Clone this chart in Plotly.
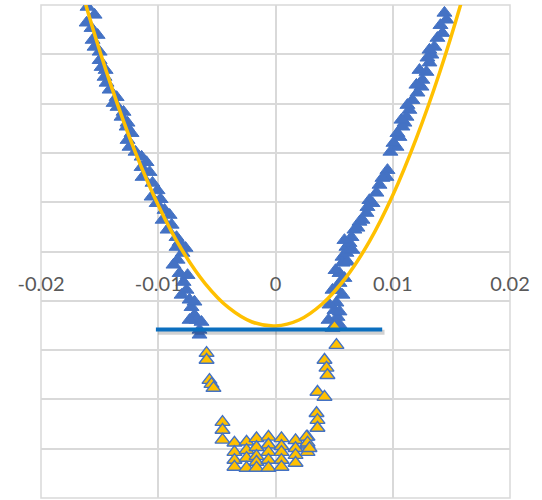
import plotly.graph_objects as go

# ---- data ----
blue_x = [-0.01603, -0.01611, -0.01569, -0.01560, -0.01543, -0.01500, -0.01483, -0.01458,
          -0.01441, -0.01355, -0.01347, -0.01313, -0.01262, -0.01270, -0.01262, -0.01245,
          -0.01142, -0.01142, -0.01134, -0.01049, -0.01057, -0.01014, -0.00946, -0.00963,
          -0.00921, -0.00844, -0.00844, -0.00793, -0.00835, -0.00818, -0.00784, -0.00759,
          -0.00733, -0.00716, -0.00691, -0.00673, -0.00648, -0.00648,
          -0.01543, -0.01517, -0.01500, -0.01449, -0.01415, -0.01381, -0.01296, -0.01228,
          -0.01194, -0.01100, -0.01074, -0.01006, -0.00980, -0.00903, -0.00886, -0.00818,
          -0.00767, -0.00870, -0.00750, -0.00801, -0.00691, -0.00733, -0.00631,
          0.01441, 0.01458, 0.01381, 0.01355, 0.01330, 0.01313, 0.01287, 0.01253,
          0.01245, 0.01211, 0.01168, 0.01142, 0.01117, 0.01100, 0.01083, 0.01057,
          0.01032, 0.00955, 0.00946, 0.00861, 0.00827, 0.00776, 0.00742, 0.00673,
          0.00648, 0.00605, 0.00571, 0.00631, 0.00605, 0.00571, 0.00546, 0.00546,
          0.00529, 0.00520, 0.00503, 0.00529, 0.00520, 0.00486,
          0.01407, 0.01424, 0.01313, 0.01296, 0.01228, 0.01202, 0.01125, 0.01074,
          0.01040, 0.01006, 0.00980, 0.00912, 0.00887, 0.00801, 0.00784, 0.00716,
          0.00699, 0.00588, 0.00656, 0.00614, 0.00512, 0.00588, 0.00486, 0.00571,
          0.00460, 0.00546, 0.00452, 0.00554]
blue_y = [4.96, 4.64, 4.53, 4.29, 4.15, 3.88, 3.74, 3.54,
          3.42, 3.13, 2.93, 2.73, 2.61, 2.53, 2.26, 2.12,
          1.92, 1.71, 1.51, 1.39, 1.11, 0.98, 0.84, 0.64,
          0.44, 0.29, 0.09, -0.03, -0.17, -0.44, -0.62, -0.78,
          -0.98, -1.13, -1.29, -1.39, -1.59, -1.69,
          4.80, 4.39, 4.05, 3.68, 3.28, 3.01, 2.83, 2.40,
          2.02, 1.81, 1.61, 1.24, 1.06, 0.74, 0.54, 0.19,
          0.07, -0.27, -0.48, -0.88, -1.02, -1.39, -1.43,
          4.84, 4.70, 4.33, 4.15, 3.99, 3.83, 3.64, 3.48,
          3.34, 3.22, 3.07, 2.87, 2.73, 2.61, 2.53, 2.32,
          2.12, 1.65, 1.51, 1.19, 0.98, 0.78, 0.64, 0.44,
          0.29, 0.09, -0.11, 0.17, -0.03, -0.23, -0.44, -0.64,
          -0.78, -1.04, -1.19, -1.33, -1.45, -1.55,
          4.59, 4.43, 4.09, 3.93, 3.68, 3.38, 2.97, 2.67,
          2.40, 2.20, 2.02, 1.49, 1.35, 1.04, 0.90, 0.60,
          0.48, 0.23, 0.03, -0.21, -0.38, -0.54, -0.78, -0.88,
          -1.08, -1.22, -1.39, -1.51]

yellow_x = [-0.00588, -0.00588, -0.00563, -0.00546, -0.00529, -0.00452, -0.00452, -0.00452,
            -0.00350, -0.00350, -0.00350, -0.00350,
            -0.00247, -0.00247, -0.00247, -0.00247,
            -0.00162, -0.00162, -0.00162, -0.00162, -0.00162,
            -0.00060, -0.00060, -0.00060, -0.00060, -0.00060,
            0.00051, 0.00051, 0.00051, 0.00051, 0.00051,
            0.00171, 0.00171, 0.00171, 0.00171,
            0.00273, 0.00273, 0.00273,
            0.00503, 0.00520, 0.00418, 0.00435, 0.00443, 0.00358, 0.00418, 0.00350,
            0.00358, 0.00358, 0.00264, 0.00273, 0.00290]
yellow_y = [-2.06, -2.20, -2.61, -2.69, -2.77, -3.46, -3.62, -3.82,
            -3.88, -4.07, -4.23, -4.37,
            -3.86, -4.03, -4.19, -4.39,
            -3.79, -3.97, -4.15, -4.27, -4.39,
            -3.76, -3.92, -4.07, -4.23, -4.39,
            -3.79, -3.95, -4.07, -4.23, -4.37,
            -3.83, -3.99, -4.13, -4.29,
            -3.76, -3.92, -4.07,
            -1.53, -1.90, -2.20, -2.36, -2.51, -2.85, -2.95, -3.28,
            -3.42, -3.58, -3.76, -3.88, -3.99]

trend_x = [-0.018, -0.016, -0.014, -0.012, -0.010, -0.008, -0.006, -0.004, -0.002,
           0.0, 0.002, 0.004, 0.006, 0.008, 0.010, 0.012, 0.014, 0.016, 0.018]
trend_y = [6.57, 4.86, 3.35, 2.04, 0.94, 0.04, -0.65, -1.14, -1.43,
           -1.51, -1.39, -1.06, -0.53, 0.20, 1.14, 2.29, 3.63, 5.18, 6.95]

level_x = [-0.0102, 0.0091]
level_y = [-1.58, -1.58]

x_ticks = [-0.02, -0.01, 0, 0.01, 0.02]
x_tick_text = ["-0.02", "-0.01", "0", "0.01", "0.02"]

BLUE = "#4472C4"
GOLD = "#FFC000"
GRID = "#D9D9D9"

fig = go.Figure()
fig.add_trace(go.Scatter(x=blue_x, y=blue_y, mode="markers",
                         marker=dict(symbol="triangle-up", size=13, color=BLUE,
                                     line=dict(color=BLUE, width=1))))
fig.add_trace(go.Scatter(x=yellow_x, y=yellow_y, mode="markers",
                         marker=dict(symbol="triangle-up", size=13, color=GOLD,
                                     line=dict(color=BLUE, width=1.4))))
fig.add_trace(go.Scatter(x=trend_x, y=trend_y, mode="lines", line_shape="spline",
                         line=dict(color=GOLD, width=3.5)))
# shadow for the level line
fig.add_trace(go.Scatter(x=[v + 0.0002 for v in level_x], y=[v - 0.06 for v in level_y],
                         mode="lines", line=dict(color="rgba(0,0,0,0.18)", width=5)))
fig.add_trace(go.Scatter(x=level_x, y=level_y, mode="lines",
                         line=dict(color="#0B6FBF", width=4)))

fig.update_layout(
    width=542, height=500,
    margin=dict(l=41, r=32, t=5, b=2),
    paper_bgcolor="white", plot_bgcolor="white",
    showlegend=False,
    font=dict(family="Lato, Carlito, sans-serif", size=20, color="#595959"),
)
fig.update_xaxes(range=[-0.02, 0.02], tickvals=x_ticks, ticktext=x_tick_text,
                 showgrid=True, gridcolor=GRID, gridwidth=1.5,
                 zeroline=True, zerolinecolor=GRID, zerolinewidth=1.5,
                 anchor="free", position=0.5, showline=False,
                 ticks="outside", ticklen=14, tickcolor="rgba(0,0,0,0)",
                 tickfont=dict(size=20, color="#595959"))
fig.update_yaxes(range=[-5, 5], dtick=1, showticklabels=False,
                 showgrid=True, gridcolor=GRID, gridwidth=1.5,
                 zeroline=True, zerolinecolor=GRID, zerolinewidth=1.5)
fig.add_shape(type="rect", xref="paper", yref="paper", x0=0, y0=0, x1=1, y1=1,
              line=dict(color=GRID, width=1.5), layer="below")

fig.write_html("out.html", config={"displayModeBar": False},
               post_script="document.body.style.margin='0';")
